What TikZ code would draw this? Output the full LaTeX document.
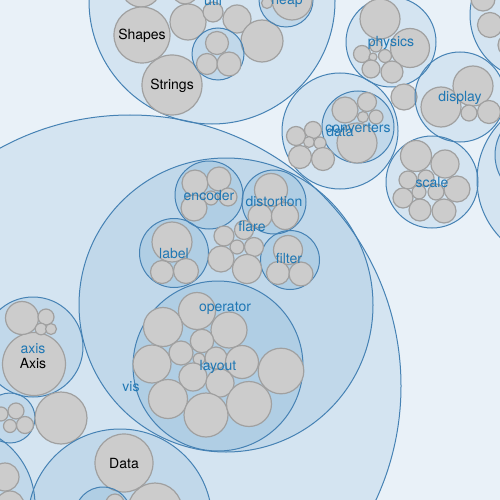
\documentclass[tikz,border=0pt]{standalone}
\usepackage{fontspec}
\setmainfont{TeX Gyre Heros}
\definecolor{pkb}{RGB}{31,119,180}
\definecolor{steel}{RGB}{70,130,180}
\definecolor{lfill}{RGB}{204,204,204}
\definecolor{ledge}{RGB}{160,160,160}
\definecolor{bgc}{RGB}{233,241,248}
\newcommand\pkc[3]{\path[pk] (#1,#2) circle[radius=#3pt];}
\newcommand\lfc[3]{\path[lf] (#1,#2) circle[radius=#3pt];}
\begin{document}
\begin{tikzpicture}[x=1pt,y=-1pt,
 pk/.style={fill=pkb,fill opacity=0.1,draw=steel,line width=1pt},
 lf/.style={fill=lfill,draw=ledge,line width=1.2pt},
 plab/.style={text=pkb,font=\fontsize{14}{16}\selectfont,anchor=base,inner sep=0pt},
 llab/.style={text=black,font=\fontsize{14}{16}\selectfont,anchor=base,inner sep=0pt}]
\useasboundingbox (0,0) rectangle (500,500);
\clip (0,0) rectangle (500,500);
\fill[bgc] (0,0) rectangle (500,500);
% ---------- util
\pkc{212}{1}{123}
\lfc{141}{-13}{20}
\lfc{185}{-9}{13}
\lfc{188}{22}{18}
\lfc{213}{12}{10}
\lfc{237}{19}{14}
\lfc{262}{41}{21}
\lfc{142}{35}{28}
\lfc{172}{85}{30}
\pkc{218}{54}{26}
\lfc{217}{43}{11.5}
\lfc{207}{64}{10.5}
\lfc{229}{64}{12}
\pkc{286}{0}{27}
\lfc{292}{0}{20}
\lfc{267}{3}{5.5}
% ---------- physics
\pkc{391}{42}{45}
\lfc{380}{19}{20}
\lfc{410}{48}{19.5}
\lfc{362}{54}{8.5}
\lfc{376}{46}{6}
\lfc{373}{57}{4}
\lfc{385}{56}{6.5}
\lfc{371}{69}{9}
\lfc{392}{72}{11}
% ---------- data (top)
\pkc{340}{131}{58}
\pkc{358}{127}{36}
\lfc{345}{110}{13}
\lfc{367}{102}{9.5}
\lfc{363}{117}{5.5}
\lfc{376}{117}{7}
\lfc{357}{143}{20}
\lfc{296}{136}{9.5}
\lfc{313}{130}{8.5}
\lfc{309}{142}{5.5}
\lfc{320}{143}{6}
\lfc{300}{157}{11.5}
\lfc{323}{159}{11.5}
\lfc{404}{97}{13}
% ---------- display
\pkc{460}{97}{45}
\lfc{441}{107}{20}
\lfc{473}{86}{20}
\lfc{469}{113}{8}
\lfc{489}{112}{11.5}
% ---------- scale
\pkc{432}{182}{46}
\lfc{416}{156}{15.5}
\lfc{445}{164}{14}
\lfc{408}{180}{9}
\lfc{426}{178}{8}
\lfc{457}{189}{13}
\lfc{419}{192}{7}
\lfc{436}{192}{8}
\lfc{403}{198}{10}
\lfc{420}{210}{11}
\lfc{444}{211}{12}
% ---------- right edge
\pkc{535}{15}{65}
\lfc{483}{-1}{12}
\lfc{490}{25}{12.5}
\lfc{510}{45}{12}
\pkc{560}{180}{83}
\pkc{540}{155}{45}
% ---------- vis
\pkc{130}{386}{271}
\pkc{226}{305}{147}
% encoder
\pkc{209}{195}{34}
\lfc{195}{183}{13}
\lfc{219}{179}{12}
\lfc{211}{198}{7}
\lfc{228}{197}{9}
\lfc{194}{208}{13}
% distortion
\pkc{274}{202}{32}
\lfc{271}{190}{16.5}
\lfc{260}{216}{12}
\lfc{285}{216}{13.5}
% label
\pkc{174}{253}{34.5}
\lfc{172}{242}{20}
\lfc{162}{272}{11.5}
\lfc{186}{271}{12.5}
% filter
\pkc{290}{260}{29.5}
\lfc{288}{250}{14.5}
\lfc{278}{273}{11.5}
\lfc{301}{274}{12}
% operator leaves
\lfc{224}{236}{10}
\lfc{244}{230}{9.5}
\lfc{237}{247}{7}
\lfc{254}{247}{9.5}
\lfc{221}{259}{13}
\lfc{247}{269}{14.5}
% layout
\pkc{218}{366}{85}
\lfc{197}{311}{18.5}
\lfc{163}{327}{19.5}
\lfc{229}{330}{18}
\lfc{202}{341}{11.7}
\lfc{181}{353}{12}
\lfc{152}{364}{19}
\lfc{199}{359}{5.8}
\lfc{216}{358}{11}
\lfc{242}{362}{16.5}
\lfc{281}{371}{22.8}
\lfc{193}{377}{14}
\lfc{220}{383}{14}
\lfc{168}{399}{19.5}
\lfc{206}{415}{22}
\lfc{249}{404}{22.5}
% axis
\pkc{33}{347}{50}
\lfc{34}{364}{31.5}
\lfc{22}{318}{16.5}
\lfc{46}{317}{8}
\lfc{41}{329}{5.8}
\lfc{51}{329}{5.5}
% small group
\pkc{10}{418}{25}
\lfc{16}{411}{8}
\lfc{1}{414}{7}
\lfc{10}{426}{6.5}
\lfc{25}{425}{8.5}
\lfc{61}{418}{26}
% data (vis)
\pkc{120}{521}{92}
\lfc{124}{463}{29}
\lfc{155}{510}{27}
\pkc{103}{515}{28}
\lfc{115}{503}{9}
% left-bottom
\pkc{-45}{505}{80}
\lfc{5}{477}{14}
\lfc{10}{505}{14}
% ---------- labels
\node[plab] (tutil) at (213,6) {util};
\node[plab] (theap) at (287,5) {heap};
\node[llab] (tshapes) at (142,40) {Shapes};
\node[llab] (tstrings) at (172,90) {Strings};
\node[plab] (tphys) at (391,47) {physics};
\node[plab] (tdata) at (340,136) {data};
\node[plab] (tconv) at (358,132) {converters};
\node[plab] (tdisp) at (460,102) {display};
\node[plab] (tscale) at (432,187) {scale};
\node[plab] (tenc) at (209,200) {encoder};
\node[plab] (tdist) at (274,206) {distortion};
\node[plab] (tflare) at (252,231) {flare};
\node[plab] (tlabel) at (174,258) {label};
\node[plab] (tfilter) at (289,263) {filter};
\node[plab] (toper) at (225,311) {operator};
\node[plab] (tlayout) at (218,370) {layout};
\node[plab] (tvis) at (131,391) {vis};
\node[plab] (taxis) at (33,353) {axis};
\node[llab] (tAxis) at (33,368) {Axis};
\node[llab] (tData) at (124,468) {Data};
\end{tikzpicture}
\end{document}
